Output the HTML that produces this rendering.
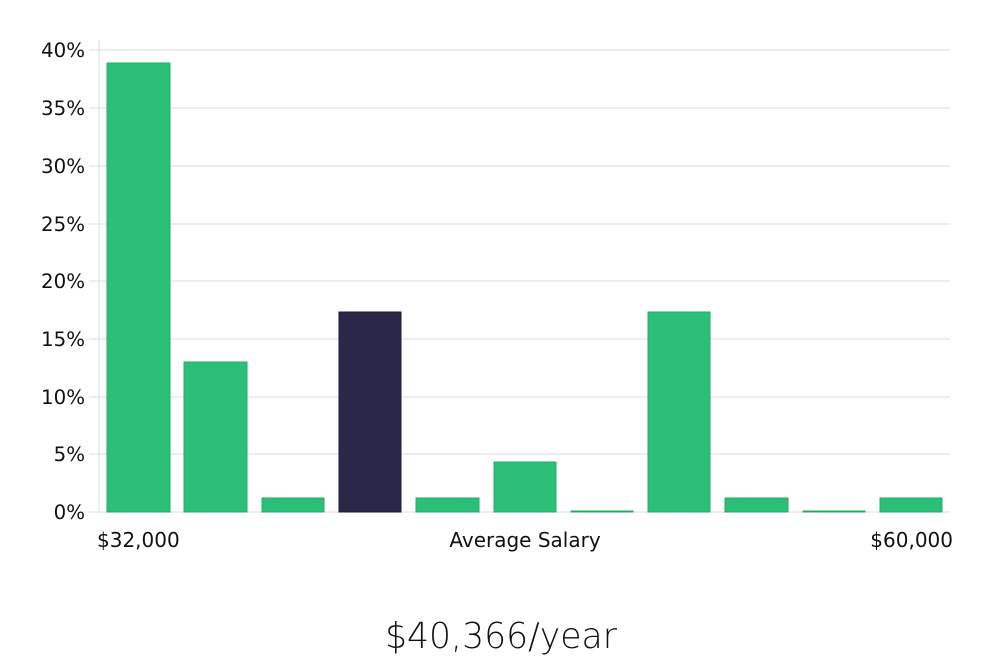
<!DOCTYPE html>
<html><head><meta charset="utf-8"><style>
html,body{margin:0;padding:0;background:#fff;}
svg{display:block;}
</style></head><body>
<svg width="1000" height="660" viewBox="0 0 1000 660" xmlns="http://www.w3.org/2000/svg">
<g stroke="#dcdcdc" stroke-width="1">
<line x1="99" y1="50" x2="950" y2="50"/>
<line x1="99" y1="108" x2="950" y2="108"/>
<line x1="99" y1="166" x2="950" y2="166"/>
<line x1="99" y1="224" x2="950" y2="224"/>
<line x1="99" y1="281" x2="950" y2="281"/>
<line x1="99" y1="339" x2="950" y2="339"/>
<line x1="99" y1="397" x2="950" y2="397"/>
<line x1="99" y1="454" x2="950" y2="454"/>
<line x1="99" y1="512" x2="950" y2="512"/>
<line x1="99" y1="40" x2="99" y2="512"/>
<line x1="89" y1="50" x2="99" y2="50"/>
<line x1="89" y1="108" x2="99" y2="108"/>
<line x1="89" y1="166" x2="99" y2="166"/>
<line x1="89" y1="224" x2="99" y2="224"/>
<line x1="89" y1="281" x2="99" y2="281"/>
<line x1="89" y1="339" x2="99" y2="339"/>
<line x1="89" y1="397" x2="99" y2="397"/>
<line x1="89" y1="454" x2="99" y2="454"/>
<line x1="89" y1="512" x2="99" y2="512"/>
</g>
<g font-family="DejaVu Sans, sans-serif" font-size="19.8" fill="#111" text-anchor="end">
<text x="85" y="57">40%</text>
<text x="85" y="115">35%</text>
<text x="85" y="173">30%</text>
<text x="85" y="231">25%</text>
<text x="85" y="288">20%</text>
<text x="85" y="346">15%</text>
<text x="85" y="404">10%</text>
<text x="85" y="461">5%</text>
<text x="85" y="519">0%</text>
</g>
<g fill="#2bbf78" stroke="#20ad68" stroke-width="1">
<rect x="107" y="63" width="63" height="449"/>
<rect x="184" y="362" width="63" height="150"/>
<rect x="262" y="498" width="62" height="14"/>
<rect x="416" y="498" width="63" height="14"/>
<rect x="494" y="462" width="62" height="50"/>
<rect x="571" y="511" width="62" height="1"/>
<rect x="648" y="312" width="62" height="200"/>
<rect x="725" y="498" width="63" height="14"/>
<rect x="803" y="511" width="62" height="1"/>
<rect x="880" y="498" width="62" height="14"/>
</g>
<rect x="339" y="312" width="62" height="200" fill="#2a2748" stroke="#1d1a38"/>
<g font-family="DejaVu Sans, sans-serif" font-size="20" fill="#111">
<text x="97" y="547">$32,000</text>
<text x="525" y="547" text-anchor="middle">Average Salary</text>
<text x="953" y="547" text-anchor="end">$60,000</text>
</g>
<text x="501" y="648" text-anchor="middle" font-family="DejaVu Sans, sans-serif" font-weight="200" font-size="36" fill="#111" textLength="232" lengthAdjust="spacingAndGlyphs">$40,366/year</text>
</svg>
</body></html>
